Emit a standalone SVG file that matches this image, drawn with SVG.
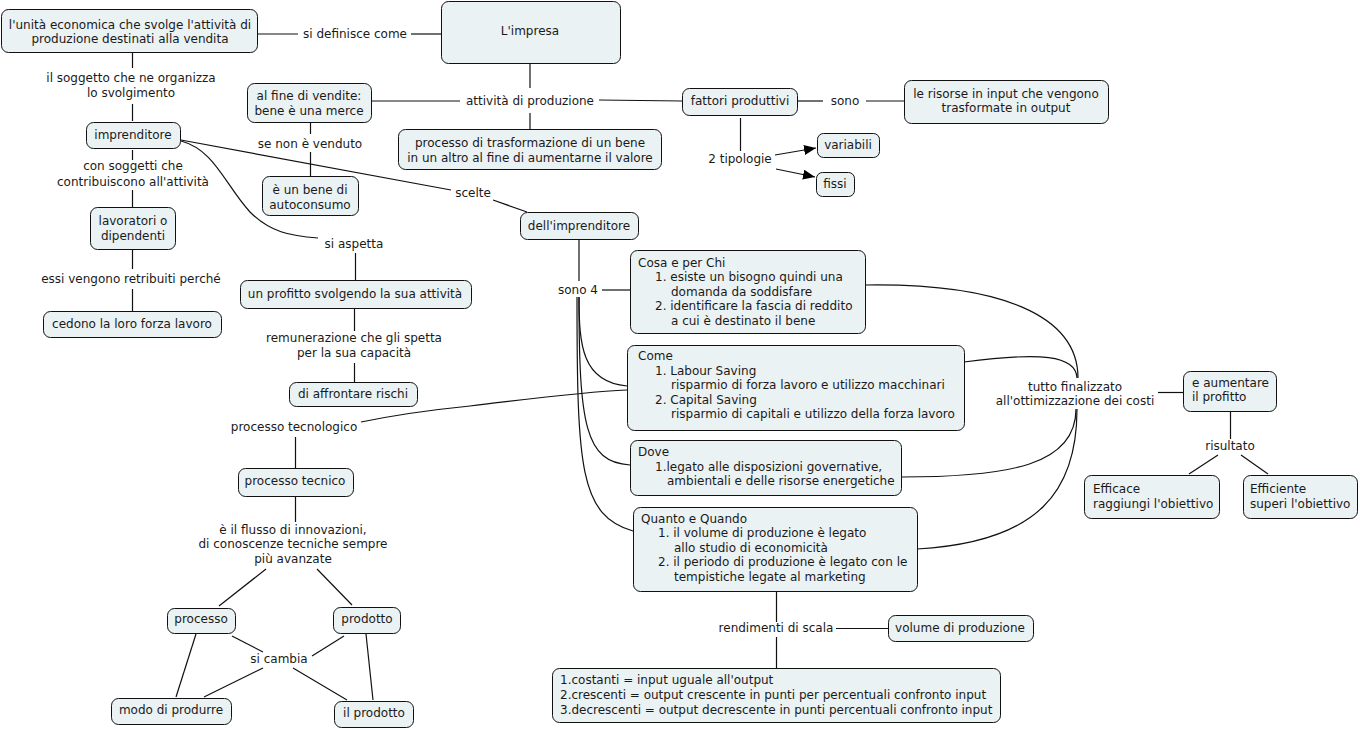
<svg xmlns="http://www.w3.org/2000/svg" width="1360" height="730" viewBox="0 0 1360 730">
<defs>
<marker id="arr" viewBox="0 0 12 10" refX="12" refY="5" markerWidth="12" markerHeight="10" markerUnits="userSpaceOnUse" orient="auto">
<path d="M0,0 L12,5 L0,10 z" fill="#000"/>
</marker>
<style>
rect.n{fill:#ebf2f4;stroke:#111;stroke-width:1}
text{font-family:"DejaVu Sans",Verdana,sans-serif;font-size:12px;fill:#1a1a1a}
.c{text-anchor:middle}
#connectors line,#connectors path,#connectors polyline{stroke:#111;stroke-width:1.2;fill:none}
</style>
</defs>
<rect width="1360" height="730" fill="#fff"/>
<g id="connectors">
<line x1="258" y1="34" x2="298" y2="34"/>
<line x1="411" y1="34" x2="441" y2="34"/>
<line x1="530" y1="64" x2="530" y2="88"/>
<line x1="530" y1="113" x2="530" y2="129"/>
<line x1="371" y1="101" x2="460" y2="101"/>
<line x1="599" y1="100" x2="682" y2="101"/>
<line x1="797" y1="101" x2="823" y2="101"/>
<line x1="866" y1="101" x2="904" y2="101"/>
<line x1="740.5" y1="118" x2="740.5" y2="151"/>
<line x1="775" y1="155" x2="816" y2="148" marker-end="url(#arr)"/>
<line x1="776" y1="169" x2="815" y2="177" marker-end="url(#arr)"/>
<line x1="132.5" y1="53" x2="132.5" y2="68"/>
<line x1="132.5" y1="104" x2="132.5" y2="121"/>
<line x1="132.5" y1="150" x2="132.5" y2="160"/>
<line x1="132.5" y1="190" x2="132.5" y2="207"/>
<line x1="132.5" y1="250" x2="132.5" y2="269"/>
<line x1="132.5" y1="289" x2="132.5" y2="311"/>
<line x1="310.5" y1="123" x2="310.5" y2="134"/>
<line x1="310.5" y1="152" x2="310.5" y2="176"/>
<line x1="181" y1="140" x2="451" y2="190"/>
<line x1="493" y1="200" x2="527" y2="212"/>
<path d="M181,141 C215,150 225,185 250,212 C270,232 290,236 318,238"/>
<line x1="355.5" y1="253" x2="355.5" y2="280"/>
<line x1="354.5" y1="309" x2="354.5" y2="331"/>
<line x1="354.5" y1="363" x2="354.5" y2="382"/>
<path d="M361,422 C400,414 430,410 470,406 C530,399 580,392 627,390"/>
<line x1="295.5" y1="437" x2="295.5" y2="468"/>
<line x1="295.5" y1="497" x2="295.5" y2="522"/>
<line x1="266" y1="569" x2="219" y2="606"/>
<line x1="317" y1="569" x2="352" y2="605"/>
<line x1="232" y1="636" x2="263" y2="652"/>
<line x1="344" y1="636" x2="312" y2="656"/>
<line x1="263" y1="668" x2="204" y2="697"/>
<line x1="293" y1="668" x2="347" y2="700"/>
<line x1="196" y1="634" x2="176" y2="697"/>
<line x1="366" y1="634" x2="373" y2="700"/>
<line x1="579" y1="240" x2="579" y2="281"/>
<line x1="602" y1="290" x2="630" y2="290"/>
<path d="M579,297 C579,345 582,382 627,386"/>
<path d="M579,297 C579,425 585,462 630,465"/>
<path d="M577,297 C577,470 580,515 633,531"/>
<path d="M865,285 C1000,283 1078,315 1078,378"/>
<path d="M964,362 C1040,352 1076,355 1077,378"/>
<path d="M901,477 C1010,477 1076,465 1076,409"/>
<path d="M917,549 C1040,542 1077,490 1077,409"/>
<line x1="1158" y1="392.5" x2="1183" y2="392.5"/>
<line x1="1230.5" y1="411" x2="1230.5" y2="439"/>
<line x1="1218" y1="455" x2="1189" y2="474"/>
<line x1="1241" y1="455" x2="1268" y2="474"/>
<line x1="776.5" y1="591" x2="776.5" y2="622"/>
<line x1="776.5" y1="637" x2="776.5" y2="668"/>
<line x1="836" y1="628.5" x2="888" y2="628.5"/>
</g>
<g id="n-unita"><rect class="n" x="1.5" y="9.5" width="256" height="43" rx="7"/><text class="c" x="130" y="29">l'unità economica che svolge l'attività di</text><text class="c" x="130" y="43">produzione destinati alla vendita</text></g>
<g id="n-impresa"><rect class="n" x="441.5" y="1.5" width="179" height="62" rx="7"/><text class="c" x="530" y="35">L'impresa</text></g>
<g id="n-finevendite"><rect class="n" x="247.5" y="83.5" width="124" height="39" rx="7"/><text class="c" x="309" y="100">al fine di vendite:</text><text class="c" x="309" y="115">bene è una merce</text></g>
<g id="n-trasformazione"><rect class="n" x="398.5" y="129.5" width="263" height="40" rx="7"/><text class="c" x="530" y="147">processo di trasformazione di un bene</text><text class="c" x="530" y="162">in un altro al fine di aumentarne il valore</text></g>
<g id="n-fattori"><rect class="n" x="682.5" y="88.5" width="115" height="27" rx="7"/><text class="c" x="740" y="105">fattori produttivi</text></g>
<g id="n-risorse"><rect class="n" x="904.5" y="80.5" width="204" height="43" rx="7"/><text class="c" x="1006" y="98">le risorse in input che vengono</text><text class="c" x="1006" y="112">trasformate in output</text></g>
<g id="n-variabili"><rect class="n" x="817.5" y="133.5" width="62" height="24" rx="6"/><text class="c" x="848" y="149">variabili</text></g>
<g id="n-fissi"><rect class="n" x="816.5" y="172.5" width="38" height="24" rx="6"/><text class="c" x="835" y="188">fissi</text></g>
<g id="n-imprenditore"><rect class="n" x="86.5" y="122.5" width="94" height="26" rx="7"/><text class="c" x="133" y="139">imprenditore</text></g>
<g id="n-lavoratori"><rect class="n" x="90.5" y="207.5" width="85" height="42" rx="7"/><text class="c" x="133" y="225">lavoratori o</text><text class="c" x="133" y="240">dipendenti</text></g>
<g id="n-cedono"><rect class="n" x="43.5" y="311.5" width="178" height="26" rx="7"/><text class="c" x="132" y="328">cedono la loro forza lavoro</text></g>
<g id="n-autoconsumo"><rect class="n" x="262.5" y="176.5" width="96" height="39" rx="7"/><text class="c" x="310" y="194">è un bene di</text><text class="c" x="310" y="209">autoconsumo</text></g>
<g id="n-dellimpr"><rect class="n" x="520.5" y="212.5" width="118" height="27" rx="7"/><text class="c" x="579" y="230">dell'imprenditore</text></g>
<g id="n-profitto"><rect class="n" x="240.5" y="280.5" width="231" height="28" rx="7"/><text class="c" x="355" y="298">un profitto svolgendo la sua attività</text></g>
<g id="n-rischi"><rect class="n" x="289.5" y="382.5" width="128" height="24" rx="7"/><text class="c" x="353" y="398">di affrontare rischi</text></g>
<g id="n-tecnico"><rect class="n" x="238.5" y="468.5" width="115" height="28" rx="7"/><text class="c" x="295" y="485">processo tecnico</text></g>
<g id="n-processo"><rect class="n" x="167.5" y="608.5" width="68" height="25" rx="7"/><text class="c" x="201" y="623">processo</text></g>
<g id="n-prodotto"><rect class="n" x="333.5" y="607.5" width="67" height="26" rx="7"/><text class="c" x="367" y="623">prodotto</text></g>
<g id="n-modo"><rect class="n" x="111.5" y="698.5" width="120" height="26" rx="7"/><text class="c" x="171" y="714">modo di produrre</text></g>
<g id="n-ilprodotto"><rect class="n" x="334.5" y="701.5" width="79" height="26" rx="7"/><text class="c" x="374" y="717">il prodotto</text></g>
<g id="n-cosa"><rect class="n" x="630.5" y="250.5" width="235" height="83" rx="7"/><text x="638" y="267">Cosa e per Chi</text><text x="655" y="281">1. esiste un bisogno quindi una</text><text x="671" y="296">domanda da soddisfare</text><text x="655" y="310">2. identificare la fascia di reddito</text><text x="671" y="325">a cui è destinato il bene</text></g>
<g id="n-come"><rect class="n" x="627.5" y="345.5" width="337" height="85" rx="7"/><text x="638" y="360">Come</text><text x="655" y="375">1. Labour Saving</text><text x="671" y="389">risparmio di forza lavoro e utilizzo macchinari</text><text x="655" y="404">2. Capital Saving</text><text x="671" y="418">risparmio di capitali e utilizzo della forza lavoro</text></g>
<g id="n-dove"><rect class="n" x="630.5" y="440.5" width="271" height="55" rx="7"/><text x="638" y="456">Dove</text><text x="655" y="471">1.legato alle disposizioni governative,</text><text x="667" y="485">ambientali e delle risorse energetiche</text></g>
<g id="n-quanto"><rect class="n" x="633.5" y="507.5" width="284" height="84" rx="7"/><text x="641" y="523">Quanto e Quando</text><text x="658" y="537">1. il volume di produzione è legato</text><text x="674" y="552">allo studio di economicità</text><text x="658" y="566">2. il periodo di produzione è legato con le</text><text x="674" y="581">tempistiche legate al marketing</text></g>
<g id="n-aumentare"><rect class="n" x="1183.5" y="371.5" width="93" height="40" rx="7"/><text x="1192" y="387">e aumentare</text><text x="1192" y="401">il profitto</text></g>
<g id="n-efficace"><rect class="n" x="1084.5" y="475.5" width="135" height="43" rx="7"/><text x="1093" y="493">Efficace</text><text x="1093" y="508">raggiungi l'obiettivo</text></g>
<g id="n-efficiente"><rect class="n" x="1243.5" y="475.5" width="114" height="43" rx="7"/><text x="1250" y="493">Efficiente</text><text x="1250" y="508">superi l'obiettivo</text></g>
<g id="n-volume"><rect class="n" x="888.5" y="615.5" width="145" height="26" rx="7"/><text class="c" x="960" y="632">volume di produzione</text></g>
<g id="n-rendimenti"><rect class="n" x="552.5" y="668.5" width="448" height="54" rx="7"/><text x="560" y="684">1.costanti = input uguale all'output</text><text x="560" y="699">2.crescenti = output crescente in punti per percentuali confronto input</text><text x="560" y="714">3.decrescenti = output decrescente in punti percentuali confronto input</text></g>
<g id="labels">
<text class="c" x="355" y="38">si definisce come</text>
<text class="c" x="530" y="105">attività di produzione</text>
<text class="c" x="845" y="105">sono</text>
<text class="c" x="740" y="163">2 tipologie</text>
<text class="c" x="131" y="82">il soggetto che ne organizza</text>
<text class="c" x="131" y="97">lo svolgimento</text>
<text class="c" x="310" y="148">se non è venduto</text>
<text class="c" x="133" y="170">con soggetti che</text>
<text class="c" x="133" y="186">contribuiscono all'attività</text>
<text class="c" x="131" y="283">essi vengono retribuiti perché</text>
<text class="c" x="473" y="197">scelte</text>
<text class="c" x="354" y="248">si aspetta</text>
<text class="c" x="354" y="342">remunerazione che gli spetta</text>
<text class="c" x="354" y="357">per la sua capacità</text>
<text class="c" x="294" y="431">processo tecnologico</text>
<text class="c" x="293" y="534">è il flusso di innovazioni,</text>
<text class="c" x="293" y="548">di conoscenze tecniche sempre</text>
<text class="c" x="293" y="563">più avanzate</text>
<text class="c" x="279" y="663">si cambia</text>
<text class="c" x="578" y="294">sono 4</text>
<text class="c" x="1075" y="391">tutto finalizzato</text>
<text class="c" x="1075" y="405">all'ottimizzazione dei costi</text>
<text class="c" x="1230" y="450">risultato</text>
<text class="c" x="776" y="632">rendimenti di scala</text>
</g>
</svg>
